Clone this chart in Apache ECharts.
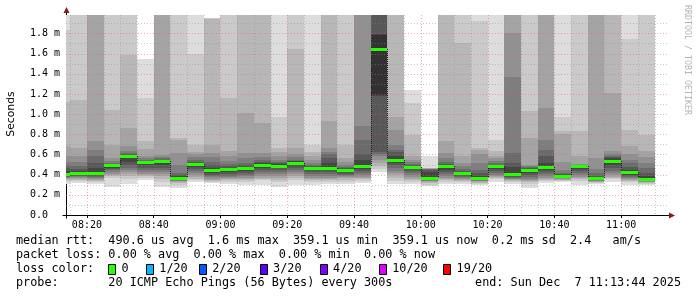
<!DOCTYPE html>
<html><head><meta charset="utf-8">
<script src="https://cdn.jsdelivr.net/npm/echarts@6/dist/echarts.min.js"></script>
<style>html,body{margin:0;padding:0;background:#fff}#c{width:697px;height:297px}</style>
</head><body><div id="c"></div>
<script>
// ---- data ----
const axisStart = '08:13:44';
const axisEnd = '11:13:44';
const slotStarts = ['08:13:44','08:15','08:20','08:25','08:30','08:35','08:40','08:45','08:50','08:55',
  '09:00','09:05','09:10','09:15','09:20','09:25','09:30','09:35','09:40','09:45',
  '09:50','09:55','10:00','10:05','10:10','10:15','10:20','10:25','10:30','10:35',
  '10:40','10:45','10:50','10:55','11:00','11:05'];
const slotEnd = '11:10';
const timeTicks = ['08:20','08:40','09:00','09:20','09:40','10:00','10:20','10:40','11:00'];
const yTicks = [0,0.2,0.4,0.6,0.8,1.0,1.2,1.4,1.6,1.8];
// median rtt per 5-minute step (ms)
const medians = [0.41,0.413,0.42,0.496,0.585,0.522,0.536,0.364,0.503,0.443,
  0.452,0.462,0.50,0.49,0.52,0.47,0.47,0.448,0.488,1.645,
  0.546,0.48,0.364,0.486,0.42,0.364,0.486,0.41,0.45,0.478,
  0.39,0.483,0.367,0.536,0.427,0.359];
// 20 sorted ping rtts per step (ms); 2.5 = above the top of the graph
const pings = [
 [0.31,0.33,0.345,0.355,0.365,0.37,0.38,0.39,0.40,0.405,0.415,0.44,0.47,0.50,0.53,0.58,0.68,1.12,1.83,2.5],
 [0.32,0.335,0.345,0.355,0.365,0.375,0.385,0.39,0.40,0.41,0.425,0.44,0.46,0.49,0.53,0.58,0.66,1.14,2.5,2.5],
 [0.31,0.33,0.34,0.35,0.36,0.37,0.38,0.39,0.40,0.415,0.43,0.47,0.52,0.58,0.64,0.73,2.5,2.5,2.5,2.5],
 [0.28,0.37,0.39,0.40,0.41,0.43,0.45,0.46,0.47,0.49,0.50,0.505,0.51,0.52,0.54,0.56,0.69,1.04,2.5,2.5],
 [0.31,0.36,0.39,0.41,0.43,0.45,0.47,0.50,0.53,0.57,0.59,0.595,0.60,0.61,0.63,0.68,0.86,1.59,2.5,2.5],
 [0.35,0.37,0.39,0.40,0.41,0.43,0.45,0.47,0.50,0.515,0.53,0.535,0.54,0.55,0.56,0.58,0.65,0.73,1.16,1.55],
 [0.28,0.33,0.36,0.39,0.41,0.43,0.45,0.47,0.50,0.53,0.54,0.545,0.55,0.56,0.57,0.595,2.5,2.5,2.5,2.5],
 [0.27,0.30,0.32,0.33,0.335,0.34,0.345,0.35,0.355,0.36,0.37,0.385,0.40,0.42,0.50,0.61,0.74,0.76,2.5,2.5],
 [0.33,0.345,0.36,0.38,0.40,0.42,0.44,0.46,0.48,0.495,0.51,0.52,0.53,0.55,0.57,0.60,0.62,0.69,1.60,2.5],
 [0.32,0.33,0.34,0.35,0.36,0.375,0.39,0.40,0.42,0.435,0.45,0.47,0.50,0.53,0.57,0.61,0.69,1.945,1.95,1.955],
 [0.31,0.33,0.35,0.36,0.37,0.38,0.39,0.41,0.43,0.445,0.46,0.47,0.49,0.51,0.54,0.58,0.63,1.16,2.5,2.5],
 [0.30,0.33,0.35,0.36,0.37,0.385,0.40,0.42,0.44,0.455,0.47,0.48,0.50,0.52,0.56,0.61,1.01,2.5,2.5,2.5],
 [0.30,0.35,0.36,0.37,0.39,0.41,0.43,0.45,0.47,0.49,0.505,0.515,0.53,0.55,0.57,0.61,0.91,2.5,2.5,2.5],
 [0.28,0.33,0.35,0.37,0.39,0.41,0.43,0.45,0.47,0.485,0.50,0.51,0.52,0.53,0.55,0.58,0.62,0.66,0.975,2.5],
 [0.30,0.35,0.37,0.39,0.41,0.43,0.45,0.47,0.49,0.51,0.525,0.535,0.54,0.55,0.57,0.60,0.66,1.65,2.5,2.5],
 [0.30,0.33,0.35,0.36,0.37,0.39,0.41,0.43,0.45,0.465,0.475,0.48,0.49,0.50,0.52,0.55,0.58,0.62,0.69,2.5],
 [0.31,0.33,0.35,0.36,0.37,0.39,0.41,0.43,0.45,0.465,0.48,0.52,0.56,0.60,0.62,0.66,0.93,2.5,2.5,2.5],
 [0.31,0.33,0.35,0.37,0.38,0.39,0.40,0.41,0.43,0.44,0.455,0.46,0.47,0.48,0.50,0.53,0.56,0.69,2.5,2.5],
 [0.32,0.34,0.36,0.37,0.38,0.40,0.42,0.44,0.46,0.475,0.50,0.55,0.60,0.74,0.88,2.5,2.5,2.5,2.5,2.5],
 [0.43,0.46,0.49,0.52,0.55,0.58,0.60,0.62,1.18,1.19,1.786,1.79,2.5,2.5,2.5,2.5,2.5,2.5,2.5,2.5],
 [0.31,0.34,0.37,0.40,0.42,0.44,0.47,0.50,0.52,0.54,0.55,0.58,0.62,0.645,0.69,0.84,0.975,2.5,2.5,2.5],
 [0.31,0.33,0.35,0.36,0.38,0.40,0.42,0.44,0.46,0.475,0.485,0.49,0.50,0.51,0.53,0.55,0.58,0.79,1.11,1.24],
 [0.29,0.30,0.32,0.33,0.335,0.34,0.345,0.35,0.355,0.36,0.368,0.43,0.45,0.455,0.458,0.46,0.461,0.462,0.463,0.58],
 [0.31,0.33,0.35,0.36,0.37,0.39,0.41,0.43,0.45,0.48,0.495,0.50,0.51,0.53,0.56,0.61,0.73,2.5,2.5,2.5],
 [0.31,0.33,0.34,0.35,0.36,0.37,0.38,0.39,0.40,0.415,0.425,0.43,0.44,0.46,0.49,0.52,0.58,1.70,2.5,2.5],
 [0.30,0.31,0.32,0.33,0.335,0.34,0.345,0.35,0.355,0.36,0.37,0.39,0.42,0.45,0.52,0.60,0.645,0.66,1.92,2.5],
 [0.33,0.36,0.37,0.38,0.39,0.40,0.42,0.44,0.46,0.48,0.49,0.495,0.50,0.52,0.54,0.56,0.58,0.63,0.74,2.5],
 [0.31,0.33,0.34,0.35,0.355,0.36,0.37,0.38,0.39,0.40,0.42,0.48,0.52,0.61,1.37,1.80,2.5,2.5,2.5,2.5],
 [0.27,0.31,0.33,0.34,0.35,0.36,0.38,0.40,0.42,0.44,0.455,0.46,0.47,0.48,0.49,0.50,0.76,1.03,2.5,2.5],
 [0.32,0.34,0.35,0.36,0.37,0.39,0.41,0.43,0.45,0.47,0.49,0.52,0.58,0.64,0.74,1.06,2.5,2.5,2.5,2.5],
 [0.33,0.34,0.345,0.35,0.36,0.365,0.37,0.375,0.38,0.385,0.395,0.40,0.41,0.42,0.45,0.53,0.80,0.83,0.975,2.5],
 [0.30,0.34,0.36,0.37,0.38,0.40,0.42,0.44,0.46,0.48,0.485,0.487,0.49,0.495,0.50,0.51,0.58,0.83,2.5,2.5],
 [0.31,0.32,0.325,0.33,0.335,0.34,0.345,0.35,0.355,0.362,0.372,0.38,0.39,0.42,0.46,0.56,2.5,2.5,2.5,2.5],
 [0.33,0.36,0.37,0.38,0.40,0.42,0.44,0.47,0.50,0.53,0.545,0.56,0.57,0.58,0.60,0.63,1.21,2.5,2.5,2.5],
 [0.30,0.33,0.34,0.35,0.36,0.37,0.38,0.39,0.40,0.42,0.435,0.45,0.48,0.52,0.55,0.60,0.68,0.84,1.74,2.5],
 [0.30,0.31,0.32,0.325,0.33,0.335,0.34,0.345,0.35,0.355,0.365,0.39,0.42,0.47,0.52,0.57,0.63,0.79,2.5,2.5]
];
const lossLabels = ['0','1/20','2/20','3/20','4/20','10/20','19/20'];
const lossColors = ['#26ff00','#00b8ff','#0059ff','#5e00ff','#7e00ff','#dd00ff','#ff0000'];
const statLine1 = 'median rtt:  490.6 us avg  1.6 ms max  359.1 us min  359.1 us now  0.2 ms sd  2.4   am/s';
const statLine2 = 'packet loss: 0.00 % avg  0.00 % max  0.00 % min  0.00 % now';
const probeLine = 'probe:       20 ICMP Echo Pings (56 Bytes) every 300s';
const endLine = 'end: Sun Dec  7 11:13:44 2025';

// ---- helpers ----
const YMAX = 1.982;
function toMin(s){const p=s.split(':').map(Number);return p[0]*60+p[1]+(p[2]||0)/60;}
function fmtMin(v){const h=Math.floor(v/60+1e-9), m=Math.round(v-h*60);return String(h).padStart(2,'0')+':'+String(m).padStart(2,'0');}
const t0 = toMin(axisStart), t1 = toMin(axisEnd);
const edges = slotStarts.map(toMin).concat([toMin(slotEnd)]);
const grays = [];
for (let k=1;k<=10;k++){const c=Math.floor(190/10*(10-k))+50;const h=c.toString(16).padStart(2,'0');grays.push('#'+h+h+h);}

const vGrid=[]; for(let t=Math.ceil(t0/5)*5;t<=t1;t+=5) vGrid.push([t, (Math.round(t)%20===0)?1:0]);
const hGrid=[]; for(let i=1;i<=19;i++) hGrid.push([i/10, i%2===0?1:0]);
const MAJ='rgba(222,96,96,0.5)', MIN='rgba(140,140,140,0.45)';
const MONO='"DejaVu Sans Mono"';

const chart = echarts.init(document.getElementById('c'), null, {renderer:'canvas'});
const option = {
  backgroundColor:'#ffffff',
  animation:false,
  grid:{left:66, top:15, width:601, height:200, containLabel:false},
  xAxis:{type:'value', min:t0, max:t1,
    axisLine:{show:false}, splitLine:{show:false},
    axisTick:{show:true, customValues:timeTicks.map(toMin), length:3, lineStyle:{color:'#000'}},
    axisLabel:{customValues:timeTicks.map(toMin), formatter:fmtMin, margin:5,
      fontFamily:MONO, fontSize:10, color:'#000'}},
  yAxis:{type:'value', min:0, max:YMAX,
    axisLine:{show:false}, splitLine:{show:false}, axisTick:{show:false},
    axisLabel:{customValues:yTicks, align:'left', margin:36,
      fontFamily:MONO, fontSize:10, color:'#000',
      formatter:v=> v===0 ? '0.0' : v.toFixed(1)+' m'}},
  series:[
    {type:'custom', name:'smoke', z:2, silent:true, clip:true,
     data: pings.map((p,i)=>[edges[i], edges[i+1], p[0], Math.min(p[19],YMAX)]),
     encode:{x:[0,1], y:[2,3]},
     renderItem:(params, api)=>{
       const i=params.dataIndex, p=pings[i];
       const xa=Math.round(api.coord([edges[i],0])[0]), xb=Math.round(api.coord([edges[i+1],0])[0]);
       const ch=[];
       for(let k=0;k<10;k++){
         const lo=Math.min(p[k],YMAX), hi=Math.min(p[19-k],YMAX);
         const ylo=Math.round(api.coord([0,lo])[1]), yhi=Math.round(api.coord([0,hi])[1]);
         if(ylo-yhi<=0) continue;
         ch.push({type:'rect', shape:{x:xa,y:yhi,width:xb-xa,height:ylo-yhi}, style:{fill:grays[k]}});
       }
       return {type:'group', children:ch};
     }},
    {type:'custom', name:'vgrid', z:3, silent:true,
     data: vGrid, encode:{x:0},
     renderItem:(params, api)=>{
       const x=Math.round(api.coord([api.value(0),0])[0])+0.5;
       const yb=api.coord([0,0])[1], yt=api.coord([0,YMAX])[1];
       return {type:'line', shape:{x1:x,y1:yt,x2:x,y2:yb}, style:{stroke:api.value(1)?MAJ:MIN, lineWidth:1, lineDash:[1,2]}};
     }},
    {type:'custom', name:'hgrid', z:3, silent:true,
     data: hGrid, encode:{y:0},
     renderItem:(params, api)=>{
       const y=Math.round(api.coord([t0,api.value(0)])[1])+0.5;
       const xl=api.coord([t0,0])[0], xr=api.coord([t1,0])[0]+1;
       return {type:'line', shape:{x1:xl,y1:y,x2:xr,y2:y}, style:{stroke:api.value(1)?MAJ:MIN, lineWidth:1, lineDash:[1,2]}};
     }},
    {type:'custom', name:'median', z:4, silent:true, clip:true,
     data: medians.map((m,i)=>[edges[i], edges[i+1], m]),
     encode:{x:[0,1], y:2},
     renderItem:(params, api)=>{
       const i=params.dataIndex;
       const xa=Math.round(api.coord([edges[i],0])[0]), xb=Math.round(api.coord([edges[i+1],0])[0]);
       const y=Math.round(api.coord([0,medians[i]])[1]);
       const ch=[];
       if(i>0){
         const yp=Math.round(api.coord([0,medians[i-1]])[1]);
         ch.push({type:'line', shape:{x1:xa+0.5,y1:Math.min(y,yp),x2:xa+0.5,y2:Math.max(y,yp)}, style:{stroke:'#202020',lineWidth:1,lineDash:[1,1]}});
       }
       ch.push({type:'rect', shape:{x:xa,y:y-1,width:xb-xa,height:3}, style:{fill:lossColors[0]}});
       return {type:'group', children:ch};
     }}
  ]
};
chart.setOption(option);

// axes, arrows and legend text
const o = chart.convertToPixel({gridIndex:0},[t0,0]);
const tr = chart.convertToPixel({gridIndex:0},[t1,YMAX]);
const ox=Math.round(o[0])+0.5, oy=Math.round(o[1])+0.5;
const g=[];
g.push({type:'line', shape:{x1:ox-4,y1:oy,x2:tr[0]+2,y2:oy}, style:{stroke:'#000',lineWidth:1}});
g.push({type:'line', shape:{x1:ox,y1:oy+3,x2:ox,y2:tr[1]-2}, style:{stroke:'#000',lineWidth:1}});
g.push({type:'polygon', shape:{points:[[tr[0]+2,oy-3],[tr[0]+2,oy+3],[tr[0]+8,oy]]}, style:{fill:'#8b1a1a'}});
g.push({type:'polygon', shape:{points:[[ox-3,tr[1]-2],[ox+3,tr[1]-2],[ox,tr[1]-8]]}, style:{fill:'#8b1a1a'}});
g.push({type:'text', x:11, y:114, rotation:Math.PI/2, style:{text:'Seconds', font:'10.8px "DejaVu Sans"', fill:'#000', align:'center', verticalAlign:'middle'}});
g.push({type:'text', x:687, y:5, rotation:-Math.PI/2, style:{text:'RRDTOOL / TOBI OETIKER', font:'8.3px '+MONO, fill:'#b4b4b4', align:'left', verticalAlign:'middle'}});
const LF='11.8px '+MONO;
const lineY=[240.9,254.9,268.9,282.6];
g.push({type:'text', x:16, y:lineY[0], style:{text:statLine1, font:LF, fill:'#000', verticalAlign:'middle'}});
g.push({type:'text', x:16, y:lineY[1], style:{text:statLine2, font:LF, fill:'#000', verticalAlign:'middle'}});
g.push({type:'text', x:16, y:lineY[2], style:{text:'loss color:', font:LF, fill:'#000', verticalAlign:'middle'}});
const boxX=[108,145.8,198.7,259.6,319.6,378.7,443.1];
lossLabels.forEach((lab,i)=>{
  g.push({type:'rect', shape:{x:Math.round(boxX[i])+0.5,y:264.5,width:7,height:10}, style:{fill:lossColors[i], stroke:'#000', lineWidth:1}});
  g.push({type:'text', x:boxX[i]+13.5, y:lineY[2], style:{text:lab, font:LF, fill:'#000', verticalAlign:'middle'}});
});
g.push({type:'text', x:16, y:lineY[3], style:{text:probeLine, font:LF, fill:'#000', verticalAlign:'middle'}});
g.push({type:'text', x:681, y:lineY[3], style:{text:endLine, font:LF, fill:'#000', align:'right', verticalAlign:'middle'}});
chart.setOption({graphic:{elements:g}});
</script></body></html>
